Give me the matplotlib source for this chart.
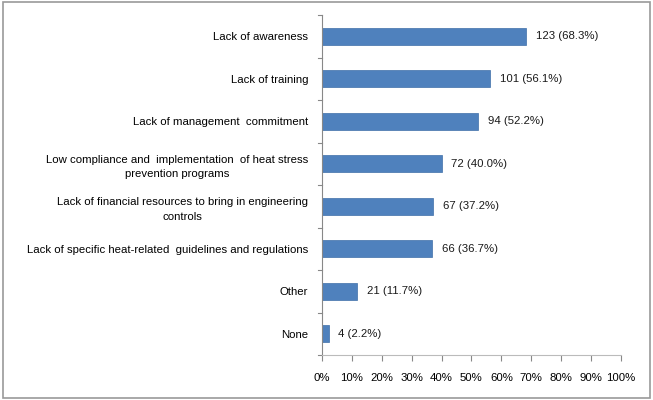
import matplotlib
matplotlib.use('Agg')
import matplotlib.pyplot as plt
from matplotlib.patches import Rectangle

# 数据
categories = [
    'Lack of awareness',
    'Lack of training',
    'Lack of management  commitment',
    'Low compliance and  implementation  of heat stress\nprevention programs',
    'Lack of financial resources to bring in engineering\ncontrols',
    'Lack of specific heat-related  guidelines and regulations',
    'Other',
    'None',
]
counts = [123, 101, 94, 72, 67, 66, 21, 4]
percents = [68.3, 56.1, 52.2, 40.0, 37.2, 36.7, 11.7, 2.2]
xticks = list(range(0, 101, 10))

plt.rcParams['font.family'] = ['Liberation Sans', 'DejaVu Sans']

fig = plt.figure(figsize=(6.53, 4.0), dpi=100)
ax = fig.add_axes([0.493, 0.1125, 0.458, 0.85])

n = len(categories)
y = list(range(n))[::-1]
ax.barh(y, percents, height=0.4, color='#4f81bd', edgecolor='#3f6fa8', linewidth=0.5)

for yi, c, p in zip(y, counts, percents):
    ax.text(p + 3.3, yi, f'{c} ({p:.1f}%)', va='center', ha='left', fontsize=8.2, color='#1a1a1a')

ax.set_xlim(0, 100)
ax.set_ylim(-0.5, n - 0.5)
ax.set_xticks(xticks)
ax.set_xticklabels([f'{t}%' for t in xticks], fontsize=8.2)
ax.set_yticks(y)
ax.set_yticklabels(categories, fontsize=8.2, linespacing=1.55)
for lbl in ax.get_yticklabels():
    lbl.set_multialignment('center')
ax.tick_params(axis='y', length=0, pad=10)
ax.tick_params(axis='x', length=4, direction='out', color='#888888', pad=9)

# 类别之间的刻度线
for b in [i - 0.5 for i in range(n + 1)]:
    ax.plot([-0.012, 0], [b, b], transform=ax.get_yaxis_transform(), color='#888888', lw=0.8, clip_on=False)

for s in ['top', 'right']:
    ax.spines[s].set_visible(False)
ax.spines['left'].set_color('#888888')
ax.spines['bottom'].set_color('#bbbbbb')

# 外框
fig.patches.append(Rectangle((0.004, 0.006), 0.992, 0.988, transform=fig.transFigure,
                             fill=False, edgecolor='#999999', lw=1.2))

fig.savefig('out.png', dpi=100)
